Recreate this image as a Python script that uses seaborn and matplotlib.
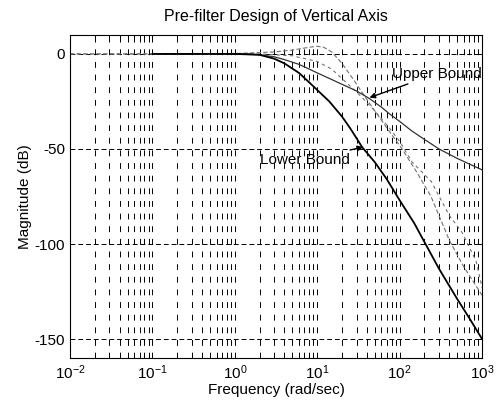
import numpy as np
import matplotlib
matplotlib.use('Agg')
import matplotlib.pyplot as plt
import seaborn as sns

# Values (frequency in rad/sec, magnitude in dB)
lower_freq = [0.1, 0.5, 1, 2, 3, 4, 6, 8, 10, 14, 20, 25, 35, 50, 70, 100, 150, 200, 300, 500, 700, 1000]
lower_mag = [0, 0, 0, -0.5, -2.5, -5, -10, -15, -19, -25, -33, -39, -49, -57, -66, -77, -89, -99, -113, -129, -139, -150]

upper_freq = [0.1, 0.5, 1, 1.5, 2, 3, 4, 6, 8, 10, 15, 20, 30, 43, 60, 75, 100, 140, 200, 300, 500, 1000]
upper_mag = [0, 0, 0, 0, -0.5, -1.5, -3, -5.5, -8, -10, -13.5, -16, -19.5, -23.5, -28, -31.5, -35.5, -40.5, -45, -50, -55, -61]

resp1_freq = [0.01, 0.1, 1, 3, 5, 8, 10, 12, 15, 20, 28, 40, 65, 107, 160, 240, 400, 600, 1000]
resp1_mag = [0, 0, 0.2, 1, 2, 3.5, 4, 3.5, 1, -5, -14, -24, -37, -50, -62, -75, -98, -112, -127]

resp2_freq = [0.01, 0.1, 1, 2, 5, 10, 15, 20, 30, 50, 75, 100, 142, 241, 400, 573, 845, 1000]
resp2_mag = [0, 0, 0, 0, -1, -4, -8, -13, -20, -30, -39, -46, -57, -67, -85, -94, -109, -123]

x_ticks = [1e-2, 1e-1, 1e0, 1e1, 1e2, 1e3]
y_ticks = [0, -50, -100, -150]

sns.set_theme(style='white')
plt.rcParams['font.family'] = ['Liberation Sans', 'DejaVu Sans']
plt.rcParams['axes.unicode_minus'] = False
plt.rcParams['mathtext.fontset'] = 'custom'
plt.rcParams['mathtext.rm'] = 'Liberation Sans'

fig = plt.figure(figsize=(4.96, 4.01), dpi=100)
ax = fig.add_axes([0.141, 0.107, 0.831, 0.806])
ax.set_xscale('log')

# Curves
sns.lineplot(x=resp1_freq, y=resp1_mag, ax=ax, color='0.45', linewidth=0.8,
             linestyle=(0, (4, 2)), sort=False)
sns.lineplot(x=resp2_freq, y=resp2_mag, ax=ax, color='0.45', linewidth=0.8,
             linestyle=(0, (3, 3)), sort=False)
sns.lineplot(x=upper_freq, y=upper_mag, ax=ax, color='0.2', linewidth=0.9, sort=False)
sns.lineplot(x=lower_freq, y=lower_mag, ax=ax, color='black', linewidth=1.3, sort=False)

ax.set_xlim(1e-2, 1e3)
ax.set_ylim(-160, 10)
ax.set_xticks(x_ticks)
ax.set_yticks(y_ticks)
ax.xaxis.set_minor_locator(matplotlib.ticker.LogLocator(base=10, subs=np.arange(2, 10)))

# MATLAB-like grid
ax.grid(True, which='major', axis='y', color='black', linestyle=(0, (5, 3)), linewidth=0.7)
ax.grid(True, which='both', axis='x', color='black', linestyle=(0, (6, 7)), linewidth=0.7)
ax.tick_params(which='both', direction='in', top=True, right=True, colors='black',
               labelsize=11, length=4, width=0.7)
ax.tick_params(which='minor', length=2)
for s in ax.spines.values():
    s.set_color('black')
    s.set_linewidth(0.8)

ax.set_title('Pre-filter Design of Vertical Axis', fontsize=11.5, color='black', pad=10)
ax.set_xlabel('Frequency (rad/sec)', fontsize=11, color='black', labelpad=1)
ax.set_ylabel('Magnitude (dB)', fontsize=11, color='black', labelpad=2)

ax.annotate('Upper Bound', xy=(43, -23), xytext=(0.89, 0.88), textcoords='axes fraction',
            fontsize=11, color='black', ha='center', va='center',
            arrowprops=dict(arrowstyle='-|>', color='black', lw=1.0, mutation_scale=8,
                            shrinkA=0, shrinkB=0))
ax.annotate('Lower Bound', xy=(36, -49), xytext=(0.57, 0.612), textcoords='axes fraction',
            fontsize=11, color='black', ha='center', va='center',
            arrowprops=dict(arrowstyle='-|>', color='black', lw=1.0, mutation_scale=8,
                            shrinkA=0, shrinkB=0))

fig.savefig('out.png', dpi=100)
